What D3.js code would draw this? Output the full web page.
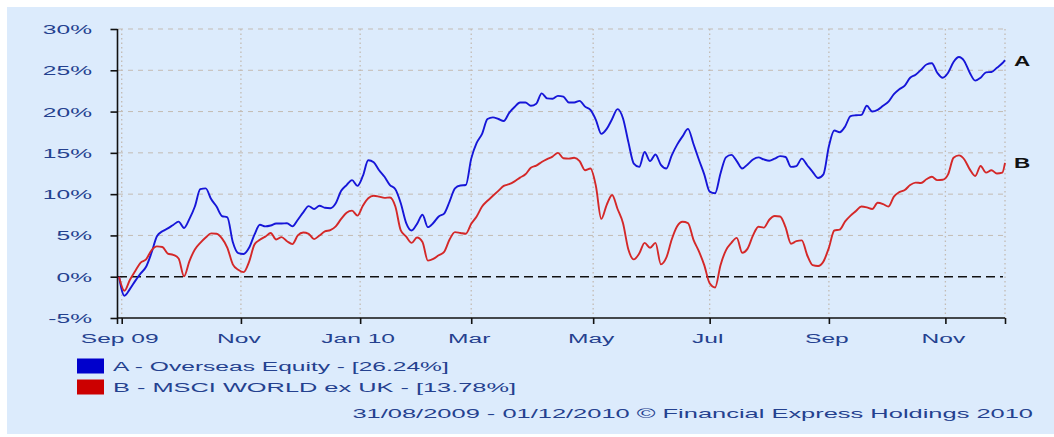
<!DOCTYPE html>
<html>
<head>
<meta charset="utf-8">
<script src="https://cdn.jsdelivr.net/npm/d3@7/dist/d3.min.js"></script>
<style>
  html, body { margin: 0; padding: 0; background: #ffffff; }
  svg { display: block; }
  text { font-family: "Liberation Sans", Arial, sans-serif; }
</style>
</head>
<body>
<svg id="chart" width="1054" height="437"></svg>
<script>
// ---------------- DATA ----------------
const dates = [
"2009-08-31","2009-09-02","2009-09-04","2009-09-08","2009-09-10",
"2009-09-14","2009-09-16","2009-09-18","2009-09-22","2009-09-24",
"2009-09-28","2009-09-30","2009-10-02","2009-10-06","2009-10-08",
"2009-10-12","2009-10-14","2009-10-16","2009-10-20","2009-10-22",
"2009-10-26","2009-10-28","2009-10-30","2009-11-03","2009-11-05",
"2009-11-09","2009-11-11","2009-11-13","2009-11-17","2009-11-19",
"2009-11-23","2009-11-25","2009-11-27","2009-12-01","2009-12-03",
"2009-12-07","2009-12-09","2009-12-11","2009-12-15","2009-12-17",
"2009-12-21","2009-12-23","2009-12-25","2009-12-29","2009-12-31",
"2010-01-04","2010-01-06","2010-01-08","2010-01-12","2010-01-14",
"2010-01-18","2010-01-20","2010-01-22","2010-01-26","2010-01-28",
"2010-02-01","2010-02-03","2010-02-05","2010-02-09","2010-02-11",
"2010-02-15","2010-02-17","2010-02-19","2010-02-23","2010-02-25",
"2010-03-01","2010-03-03","2010-03-05","2010-03-09","2010-03-11",
"2010-03-15","2010-03-17","2010-03-19","2010-03-23","2010-03-25",
"2010-03-29","2010-03-31","2010-04-02","2010-04-06","2010-04-08",
"2010-04-12","2010-04-14","2010-04-16","2010-04-20","2010-04-22",
"2010-04-26","2010-04-28","2010-04-30","2010-05-04","2010-05-06",
"2010-05-10","2010-05-12","2010-05-14","2010-05-18","2010-05-20",
"2010-05-24","2010-05-26","2010-05-28","2010-06-01","2010-06-03",
"2010-06-07","2010-06-09","2010-06-11","2010-06-15","2010-06-17",
"2010-06-21","2010-06-23","2010-06-25","2010-06-29","2010-07-01",
"2010-07-05","2010-07-07","2010-07-09","2010-07-13","2010-07-15",
"2010-07-19","2010-07-21","2010-07-23","2010-07-27","2010-07-29",
"2010-08-02","2010-08-04","2010-08-06","2010-08-10","2010-08-12",
"2010-08-16","2010-08-18","2010-08-20","2010-08-24","2010-08-26",
"2010-08-30","2010-09-01","2010-09-03","2010-09-07","2010-09-09",
"2010-09-13","2010-09-15","2010-09-17","2010-09-21","2010-09-23",
"2010-09-27","2010-09-29","2010-10-01","2010-10-05","2010-10-07",
"2010-10-11","2010-10-13","2010-10-15","2010-10-19","2010-10-21",
"2010-10-25","2010-10-27","2010-10-29","2010-11-02","2010-11-04",
"2010-11-08","2010-11-10","2010-11-12","2010-11-16","2010-11-18",
"2010-11-22","2010-11-24","2010-11-26","2010-11-30","2010-12-01"
];

// A - Overseas Equity (% cumulative)
const seriesA = [
0, -2.3, -1.5, -0.5, 0.4,
1.2, 2.9, 4.9, 5.5, 5.85,
6.27, 6.67, 5.9, 7.0, 8.5,
10.6, 10.7, 9.4, 8.5, 7.35,
7.2, 4.2, 2.85, 2.75, 3.5,
5.1, 6.29, 6.1, 6.2, 6.45,
6.45, 6.47, 6.1, 6.9, 7.8,
8.55, 8.2, 8.6, 8.35, 8.3,
8.9, 10.4, 11.1, 11.7, 11.0,
12.2, 14.1, 13.85, 12.9, 12.1,
11.1, 10.6, 8.9, 6.5, 5.6,
6.4, 7.5, 6.0, 6.5, 7.3,
7.65, 9.1, 10.7, 11.05, 11.1,
14.3, 16.2, 17.3, 19.1, 19.3,
19.1, 18.85, 19.85, 20.55, 21.1,
21.1, 20.7, 20.95, 22.2, 21.6,
21.55, 21.9, 21.8, 21.1, 21.1,
21.3, 20.6, 20.2, 19.0, 17.3,
17.9, 19.1, 20.3, 19.2, 16.3,
13.7, 13.3, 15.1, 14.0, 14.8,
13.55, 13.1, 14.7, 16.0, 17.0,
17.9, 16.1, 14.2, 12.4, 10.3,
10.1, 12.5, 14.45, 14.75, 14.0,
13.1, 13.6, 14.2, 14.45, 14.2,
14.05, 14.3, 14.6, 14.5, 13.3,
13.4, 14.3, 13.5, 12.7, 11.95,
12.4, 15.8, 17.7, 17.5, 18.2,
19.45, 19.55, 19.6, 20.7, 20.0,
20.2, 20.7, 21.2, 22.1, 22.7,
23.15, 24.1, 24.45, 25.05, 25.7,
25.85, 24.7, 24.1, 24.7, 26.0,
26.6, 26.1, 24.7, 23.75, 24.1,
24.75, 24.8, 25.3, 25.85, 26.24
];

// B - MSCI WORLD ex UK (% cumulative)
const seriesB = [
0, -1.7, -0.4, 0.7, 1.7,
2.1, 3.2, 3.67, 3.6, 2.8,
2.65, 2.2, 0.05, 1.9, 3.3,
4.1, 4.75, 5.25, 5.2, 4.65,
3.5, 1.5, 0.85, 0.55, 1.8,
3.9, 4.47, 4.85, 5.3, 4.5,
4.8, 4.3, 3.95, 5.0, 5.35,
5.2, 4.55, 5.0, 5.48, 5.65,
6.1, 7.0, 7.75, 8.0, 7.4,
8.6, 9.5, 9.8, 9.7, 9.55,
9.6, 8.5, 5.6, 4.85, 4.1,
4.75, 4.2, 1.95, 2.15, 2.6,
3.0, 4.5, 5.4, 5.3, 5.2,
6.4, 7.3, 8.5, 9.2, 9.8,
10.4, 11.0, 11.2, 11.55, 12.0,
12.4, 13.2, 13.45, 13.9, 14.25,
14.55, 15.0, 14.35, 14.3, 14.4,
14.0, 12.9, 13.1, 11.0, 7.0,
8.7, 9.9, 8.2, 6.5, 3.3,
2.1, 2.8, 4.1, 3.5, 4.1,
1.5, 2.3, 4.5, 6.1, 6.65,
6.5, 4.5, 3.1, 1.4, -0.8,
-1.3, 1.4, 3.2, 4.1, 4.7,
2.9, 3.4, 5.0, 6.05, 5.95,
6.9, 7.35, 7.3, 6.0, 4.0,
4.3, 4.4, 2.6, 1.4, 1.3,
1.85, 3.5, 5.6, 5.7, 6.7,
7.4, 7.95, 8.5, 8.4, 8.2,
8.95, 8.8, 8.5, 9.7, 10.25,
10.5, 11.1, 11.4, 11.35, 11.8,
12.1, 11.7, 11.75, 12.4, 14.4,
14.7, 14.2, 13.0, 12.2, 13.4,
12.6, 12.9, 12.5, 12.6, 13.78
];

const seriesNames = ["A - Overseas Equity - [26.24%]", "B - MSCI WORLD ex UK - [13.78%]"];
const seriesTags = ["A", "B"];
const seriesColors = ["#1616d8", "#d42828"];
const legendColors = ["#0000cc", "#cc0000"];

const tickDates = ["2009-09-01","2009-11-02","2010-01-01","2010-03-01","2010-05-03","2010-07-01","2010-09-01","2010-11-01"];
const tickLabels = ["Sep 09","Nov","Jan 10","Mar","May","Jul","Sep","Nov"];
const yTicks = [-5, 0, 5, 10, 15, 20, 25, 30];
const footer = "31/08/2009 - 01/12/2010 \u00A9 Financial Express Holdings 2010";

// ---------------- SETUP ----------------
(function () {
const parse = d3.timeParse("%Y-%m-%d");
const start = parse(dates[0]);
const end = parse(dates[dates.length - 1]);
// trading-day (weekday) index from the first date
function tIdx(d) {
  return d3.timeDay.count(start, d) - d3.timeSaturday.count(start, d) - d3.timeSunday.count(start, d);
}

const svg = d3.select("#chart");
const W = 1054, H = 437;
const pLeft = 119, pRight = 1005, pTop = 29, pBottom = 318;
const SX = 1.82;
const textColor = "#24418f";

const x = d3.scaleLinear().domain([0, tIdx(end)]).range([pLeft, pRight]);
const y = d3.scaleLinear().domain([-5, 30]).range([pBottom, pTop]);

// background
svg.append("rect").attr("x", 7).attr("y", 7).attr("width", W - 7).attr("height", H - 10)
  .attr("fill", "#dcebfc");

function stretchedText(g, px, py, str, anchor, opts = {}) {
  return g.append("text")
    .attr("transform", `translate(${px},${py}) scale(${opts.sx || SX},1)`)
    .attr("text-anchor", anchor)
    .attr("font-size", opts.size || 13.5)
    .attr("font-weight", opts.weight || "normal")
    .attr("fill", opts.fill || textColor)
    .text(str);
}

// grid
const grid = svg.append("g");
yTicks.filter(v => v > 0).forEach(v => {
  grid.append("line").attr("x1", 118).attr("x2", pRight).attr("y1", y(v)).attr("y2", y(v))
    .attr("stroke", "#c3bbb3").attr("stroke-width", 1).attr("stroke-dasharray", "5,5");
});
const tickIdx = tickDates.map(s => tIdx(parse(s)));
tickIdx.concat([tIdx(end)]).forEach(t => {
  grid.append("line").attr("x1", x(t)).attr("x2", x(t)).attr("y1", pTop).attr("y2", pBottom)
    .attr("stroke", "#c3bbb3").attr("stroke-width", 1.3).attr("stroke-dasharray", "1.5,3");
});
// zero line
svg.append("line").attr("x1", 118).attr("x2", pRight - 2).attr("y1", y(0)).attr("y2", y(0))
  .attr("stroke", "#111").attr("stroke-width", 1.5).attr("stroke-dasharray", "9,5");

// axes
const yAxis = svg.append("g").attr("transform", "translate(117.5,0)")
  .call(d3.axisLeft(y).tickValues(yTicks).tickSize(7).tickSizeOuter(0).tickFormat(""));
yAxis.selectAll("path,line").attr("stroke", "#111").attr("stroke-width", 1.6);
yAxis.select(".domain").attr("d", `M0,${pTop}V${pBottom + 6}`);

const xAxis = svg.append("g").attr("transform", `translate(0,${pBottom})`)
  .call(d3.axisBottom(x).tickValues(tickIdx.concat([tIdx(end)])).tickSize(6).tickSizeOuter(0).tickFormat(""));
xAxis.selectAll("path,line").attr("stroke", "#111").attr("stroke-width", 1.6);
xAxis.select(".domain").attr("d", `M117.5,0H${pRight}`);

// axis labels
const lab = svg.append("g");
yTicks.forEach(v => stretchedText(lab, 92, y(v) + 5, v + "%", "end"));
tickIdx.forEach((t, i) => stretchedText(lab, x(t) - 2, 343, tickLabels[i], "middle"));

// lines
const line = d3.line().x(d => x(d.t)).y(d => y(d.v)).curve(d3.curveMonotoneX);
[seriesA, seriesB].forEach((vals, si) => {
  const pts = dates.map((s, i) => ({ t: tIdx(parse(s)), v: vals[i] }));
  svg.append("path").datum(pts).attr("d", line)
    .attr("fill", "none").attr("stroke", seriesColors[si]).attr("stroke-width", 1.9)
    .attr("stroke-linejoin", "round");
  // end tag
  stretchedText(svg, 1014, y(vals[vals.length - 1]) + 5.5, seriesTags[si], "start",
    { sx: 1.5, size: 15, weight: "bold", fill: "#111" });
});

// legend
const leg = svg.append("g");
seriesNames.forEach((n, i) => {
  const cy = 366 + i * 21;
  leg.append("rect").attr("x", 77).attr("y", cy - 7.5).attr("width", 27).attr("height", 15)
    .attr("fill", legendColors[i]);
  stretchedText(leg, 113, cy + 5, n, "start", { sx: i === 1 ? 1.88 : SX });
});

// footer, stretched to span the same width as in the reference
const ft = stretchedText(svg, 1033, 418, footer, "end", { sx: 1 });
const len = ft.node().getComputedTextLength();
ft.attr("transform", `translate(1033,418) scale(${681 / len},1)`);
})();
</script>
</body>
</html>
